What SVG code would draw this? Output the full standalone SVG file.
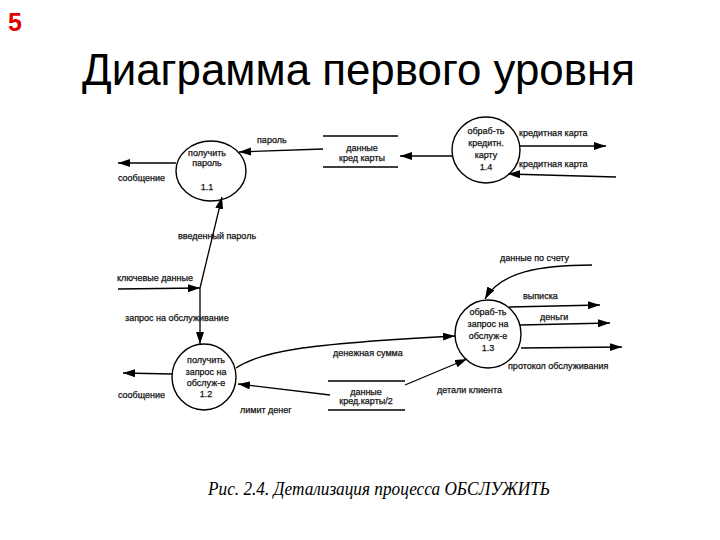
<svg xmlns="http://www.w3.org/2000/svg" width="720" height="540" viewBox="0 0 720 540">
<defs>
<marker id="ah" markerWidth="14" markerHeight="9" refX="12" refY="4" orient="auto" markerUnits="userSpaceOnUse">
<path d="M0,0 L12,4 L0,8 z" fill="#000"/>
</marker>
<style>
.t{font-family:"Liberation Sans",Arial,sans-serif;font-size:9px;fill:#111;stroke:#111;stroke-width:0.25}
.c{text-anchor:middle}
.n{fill:none;stroke:#000;stroke-width:1.4}
.l{fill:none;stroke:#000;stroke-width:1.3}
.a{fill:none;stroke:#000;stroke-width:1.3;marker-end:url(#ah)}
</style>
</defs>
<rect width="720" height="540" fill="#fff"/>
<text x="8" y="31" style="font-family:'Liberation Sans',Arial,sans-serif;font-size:25px;font-weight:bold;fill:#e00000">5</text>
<text x="82" y="85" textLength="553" lengthAdjust="spacingAndGlyphs" style="font-family:'Liberation Sans',Arial,sans-serif;font-size:45px;fill:#000">Диаграмма первого уровня</text>

<g id="connectors">
<path class="a" d="M323,149 L239,152"/>
<text class="t" x="257" y="143">пароль</text>
<path class="a" d="M176,163 L118,163"/>
<text class="t" x="118" y="181">сообщение</text>
<path class="a" d="M453,156 L400,156"/>
<path class="a" d="M519,146 L606,146"/>
<text class="t" x="519" y="136">кредитная карта</text>
<path class="a" d="M616,177 L508,174"/>
<text class="t" x="519" y="167">кредитная карта</text>
<path class="a" d="M200,288 L222,197"/>
<text class="t" x="178" y="239">введенный пароль</text>
<path class="a" d="M118,289 L200,288"/>
<text class="t" x="117" y="281">ключевые данные</text>
<path class="a" d="M200,288 L200,344"/>
<text class="t" x="125" y="321">запрос на обслуживание</text>
<path class="a" d="M172,374 L123,373"/>
<text class="t" x="118" y="398">сообщение</text>
<path class="a" d="M236,368 C260,352 300,344 455,336"/>
<text class="t" x="333" y="356">денежная сумма</text>
<path class="a" d="M330,395 L238,384"/>
<text class="t" x="240" y="413">лимит денег</text>
<path class="a" d="M405,385 L467,359"/>
<text class="t" x="437" y="393">детали клиента</text>
<path class="a" d="M592,265 C540,265 500,272 485,299"/>
<text class="t" x="500" y="261">данные по счету</text>
<path class="a" d="M509,307 L600,305"/>
<text class="t" x="523" y="299">выписка</text>
<path class="a" d="M520,325 L610,323"/>
<text class="t" x="540" y="320">деньги</text>
<path class="a" d="M521,348 L622,347"/>
<text class="t" x="508" y="369">протокол обслуживания</text>
</g>

<g id="node-1-1">
<ellipse class="n" cx="211" cy="171" rx="35" ry="30"/>
<text class="t c" x="207" y="156">получить</text>
<text class="t c" x="207" y="166">пароль</text>
<text class="t c" x="207" y="190">1.1</text>
</g>
<g id="node-1-4">
<ellipse class="n" cx="486" cy="150" rx="34" ry="33"/>
<text class="t c" x="486" y="134">обраб-ть</text>
<text class="t c" x="486" y="146">кредитн.</text>
<text class="t c" x="486" y="158">карту</text>
<text class="t c" x="486" y="170">1.4</text>
</g>
<g id="node-1-2">
<ellipse class="n" cx="204" cy="377" rx="32" ry="33"/>
<text class="t c" x="206" y="363">получить</text>
<text class="t c" x="206" y="375">запрос на</text>
<text class="t c" x="206" y="386">обслуж-е</text>
<text class="t c" x="206" y="397">1.2</text>
</g>
<g id="node-1-3">
<ellipse class="n" cx="488" cy="334" rx="33" ry="34"/>
<text class="t c" x="488" y="315">обраб-ть</text>
<text class="t c" x="488" y="327">запрос на</text>
<text class="t c" x="488" y="339">обслуж-е</text>
<text class="t c" x="488" y="351">1.3</text>
</g>
<g id="store-1">
<path class="l" d="M323,136 H398 M323,167 H398"/>
<text class="t c" x="362" y="151">данные</text>
<text class="t c" x="362" y="161">кред карты</text>
</g>
<g id="store-2">
<path class="l" d="M328,381 H405 M328,410 H405"/>
<text class="t c" x="366" y="395">данные</text>
<text class="t c" x="366" y="404">кред.карты/2</text>
</g>

<text x="208" y="495" textLength="342" lengthAdjust="spacingAndGlyphs" style="font-family:'Liberation Serif','Times New Roman',serif;font-style:italic;font-size:18px;fill:#000">Рис. 2.4. Детализация процесса ОБСЛУЖИТЬ</text>
</svg>
